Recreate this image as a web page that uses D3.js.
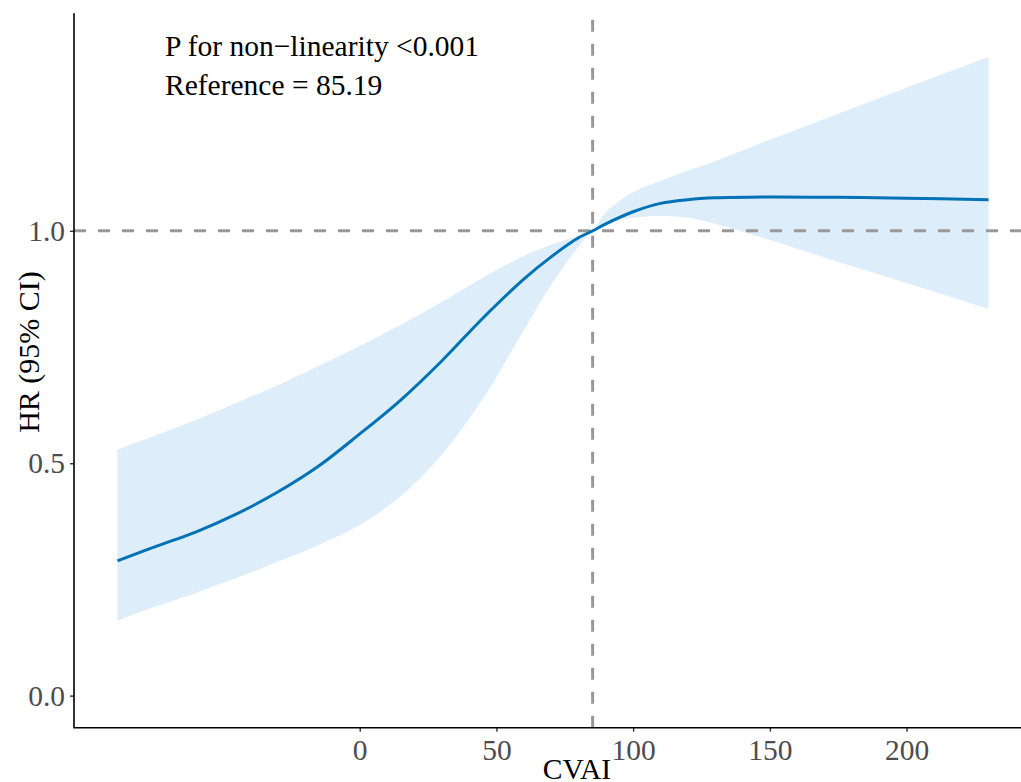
<!DOCTYPE html>
<html>
<head>
<meta charset="utf-8">
<script src="https://cdn.jsdelivr.net/npm/d3@7"></script>
<style>
  html, body { margin: 0; padding: 0; background: #fff; }
  svg { display: block; font-family: "Liberation Serif", "Times New Roman", serif; }
</style>
</head>
<body>
<div id="chart"></div>
<script>
// CVAI values along the spline
const cvai = [-88.6, -75, -60, -45, -30, -15, 0, 15, 30, 45, 60, 70, 80, 85.19, 90, 100, 110, 120, 130, 150, 175, 200, 230];
// hazard ratio and 95% CI
const hr = [0.290, 0.320, 0.352, 0.391, 0.438, 0.494, 0.563, 0.636, 0.720, 0.812, 0.896, 0.944, 0.985, 1.000, 1.015, 1.041, 1.059, 1.067, 1.071, 1.073, 1.072, 1.070, 1.067];
const upper = [0.529, 0.559, 0.593, 0.630, 0.668, 0.709, 0.752, 0.798, 0.847, 0.899, 0.946, 0.970, 0.989, 1.000, 1.040, 1.083, 1.107, 1.129, 1.150, 1.196, 1.252, 1.308, 1.374];
const lower = [0.161, 0.191, 0.221, 0.253, 0.288, 0.324, 0.367, 0.429, 0.518, 0.638, 0.786, 0.884, 0.966, 1.000, 1.015, 1.028, 1.032, 1.028, 1.015, 0.980, 0.933, 0.888, 0.832];

const xTicks = [0, 50, 100, 150, 200];
const yTicks = [0, 0.5, 1.0];
const refValue = 85.19;
const refHR = 1;
const notes = ['P for non\u2212linearity <0.001', 'Reference = 85.19'];

const data = cvai.map((d, i) => ({ x: d, hr: hr[i], lo: lower[i], hi: upper[i] }));

const w = 1021;
const h = 782;
const margin = ({ top: 13.3, right: -60, bottom: 54.3, left: 74 });

const xScale = d3.scaleLinear()
  .domain([-104.5, 263.8])
  .range([margin.left, w - margin.right]);

const yScale = d3.scaleLinear()
  .domain([-0.069, 1.468])
  .range([h - margin.bottom, margin.top]);

const svg = d3.select('#chart')
  .append('svg')
  .attr('width', w)
  .attr('height', h)
  .attr('viewBox', `0 0 ${w} ${h}`);

// ribbon
const band = d3.area()
  .curve(d3.curveCatmullRom.alpha(0.5))
  .x(d => xScale(d.x))
  .y0(d => yScale(d.lo))
  .y1(d => yScale(d.hi));

svg.append('path')
  .datum(data)
  .attr('fill', '#ddeefa')
  .attr('d', band);

// reference lines
svg.append('line')
  .attr('x1', xScale.range()[0])
  .attr('x2', xScale.range()[1])
  .attr('y1', yScale(refHR))
  .attr('y2', yScale(refHR))
  .attr('stroke', '#999999')
  .attr('stroke-width', 3)
  .attr('stroke-dasharray', '12 12');

svg.append('line')
  .attr('x1', xScale(refValue))
  .attr('x2', xScale(refValue))
  .attr('y1', yScale.range()[0])
  .attr('y2', yScale.range()[1])
  .attr('stroke', '#999999')
  .attr('stroke-width', 3)
  .attr('stroke-dasharray', '12 12');

// hr line
const line = d3.line()
  .curve(d3.curveCatmullRom.alpha(0.5))
  .x(d => xScale(d.x))
  .y(d => yScale(d.hr));

svg.append('path')
  .datum(data)
  .attr('fill', 'none')
  .attr('stroke', '#0072B5')
  .attr('stroke-width', 3)
  .attr('d', line);

// axes
const xAxis = d3.axisBottom(xScale)
  .tickValues(xTicks)
  .tickFormat(d3.format('d'))
  .tickSizeOuter(0)
  .tickSize(4)
  .tickPadding(7);

const yAxis = d3.axisLeft(yScale)
  .tickValues(yTicks)
  .tickFormat(d3.format('.1f'))
  .tickSizeOuter(0)
  .tickSize(4)
  .tickPadding(5);

svg.append('g')
  .classed('x-axis', true)
  .attr('transform', `translate(0, ${yScale.range()[0]})`)
  .call(xAxis);

svg.append('g')
  .classed('y-axis', true)
  .attr('transform', `translate(${margin.left}, 0)`)
  .call(yAxis);

// draw the axis lines by hand
svg.selectAll('.domain').remove();

svg.append('path')
  .attr('fill', 'none')
  .attr('stroke', '#000')
  .attr('stroke-width', 1.6)
  .attr('d', `M${margin.left},${yScale.range()[1]}V${yScale.range()[0]}H${w}`);

svg.selectAll('.tick line')
  .attr('stroke', '#333333')
  .attr('stroke-width', 1.4);

svg.selectAll('.tick text')
  .attr('fill', '#4d4d4d')
  .attr('font-family', '"Liberation Serif", serif')
  .attr('font-size', 29.5);

// axis titles
svg.append('text')
  .attr('x', 577)
  .attr('y', 779)
  .attr('text-anchor', 'middle')
  .attr('font-size', 29.5)
  .attr('fill', '#000')
  .text('CVAI');

svg.append('text')
  .attr('transform', 'translate(39, 352) rotate(-90)')
  .attr('text-anchor', 'middle')
  .attr('font-size', 30)
  .attr('fill', '#000')
  .text('HR (95% CI)');

// annotation
svg.selectAll('.note')
  .data(notes)
  .enter()
  .append('text')
  .attr('class', 'note')
  .attr('x', 165)
  .attr('y', (d, i) => 56 + i * 39)
  .attr('font-size', 29.5)
  .attr('fill', '#000')
  .text(d => d);
</script>
</body>
</html>
